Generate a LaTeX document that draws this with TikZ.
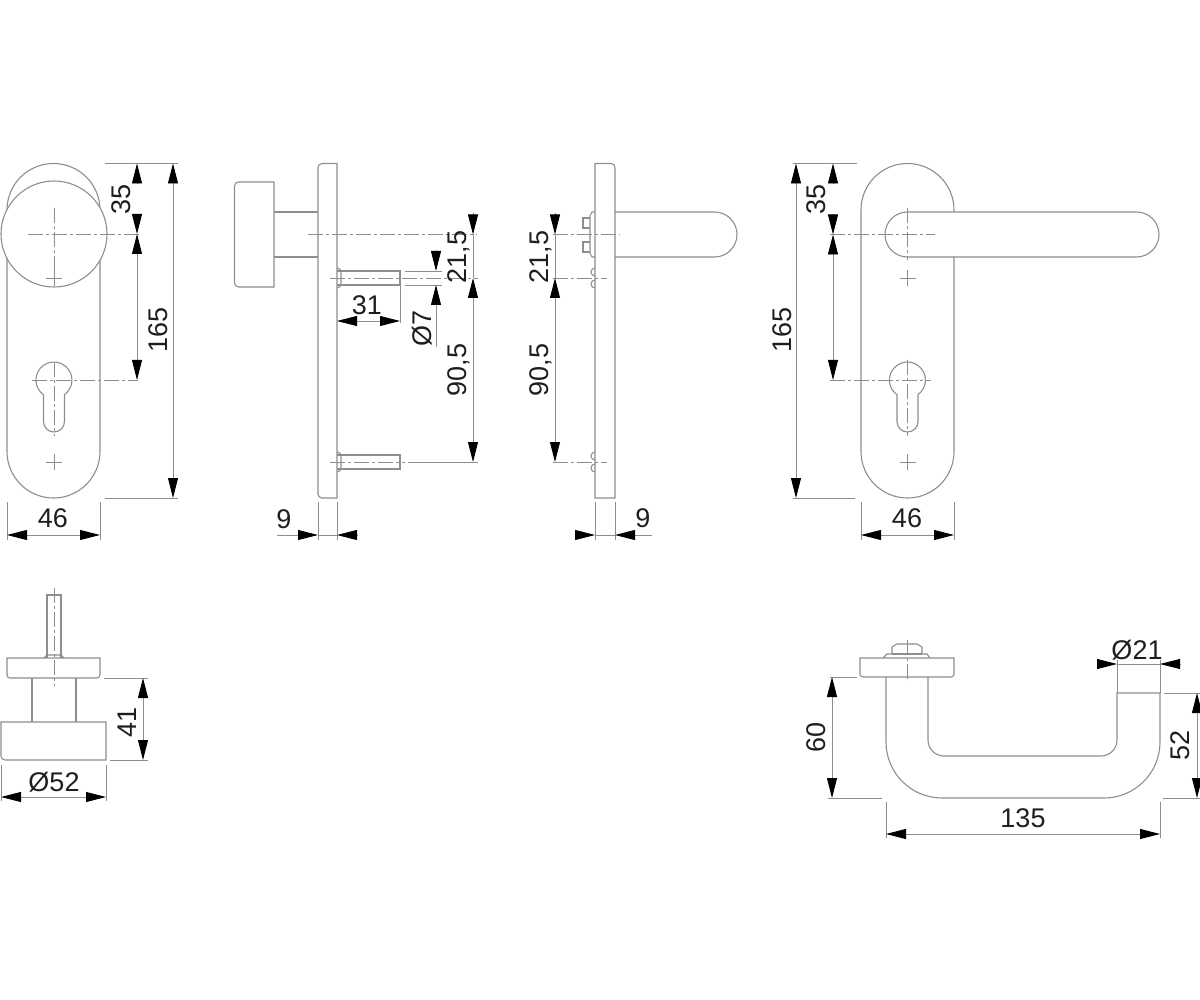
\documentclass[tikz,border=0pt]{standalone}
\usepackage{fontspec}
\setmainfont{Liberation Sans}
\usetikzlibrary{arrows.meta}
\definecolor{lin}{HTML}{8E8E8E}
\definecolor{txt}{HTML}{1E1E1E}
\tikzset{
  part/.style={draw=lin,line width=1.1pt},
  thin part/.style={draw=lin,line width=0.9pt},
  axis/.style={draw=lin,line width=0.9pt,dash pattern=on 15pt off 3pt on 3pt off 3pt},
  ext/.style={draw=lin,line width=0.9pt},
  tip/.style={draw=lin,line width=0.9pt,-{Triangle[length=20pt,width=10pt,fill=black,color=black]}},
  lab/.style={text=txt,font=\fontsize{27}{27}\selectfont,inner sep=0pt},
  rlab/.style={lab,rotate=90}
}
\newcommand{\plusmark}[2]{\draw[thin part] (#1-8,#2)--(#1+8,#2) (#1,#2-8)--(#1,#2+8);}
\newcommand{\cylinder}[2]{\draw[part] (#1-10.5,#2+14.6) -- (#1-10.5,#2+41.5) arc[start angle=180,end angle=0,radius=10.5] -- (#1+10.5,#2+14.6) arc[start angle=54,end angle=-234,radius=18] -- cycle;}
\newcommand{\bumpR}[2]{\draw[part] (#1,#2-10) .. controls (#1+3,#2-10) and (#1+4,#2-8) .. (#1+4,#2-5) -- (#1+4,#2+5) .. controls (#1+4,#2+8) and (#1+3,#2+10) .. (#1,#2+10);}
\newcommand{\bumpL}[2]{\draw[part] (#1,#2-10) arc[start angle=270,end angle=90,radius=4] (#1,#2+2) arc[start angle=270,end angle=90,radius=4];}
\begin{document}
\begin{tikzpicture}[x=1pt,y=-1pt]
\useasboundingbox (0,0) rectangle (1200,1000);
% ---------- front view, knob
\draw[part] (7,210) arc[start angle=180,end angle=360,radius=46.5] -- (100,451.5) arc[start angle=0,end angle=180,radius=46.5] -- cycle;
\draw[part,fill=white] (54,234) circle[radius=53];
\draw[axis] (28,234)--(140,234);
\draw[axis] (54,208)--(54,272);
\plusmark{54}{278}
\cylinder{54}{380}
\draw[axis] (32,380)--(138,380);
\draw[axis] (54,362)--(54,436);
\plusmark{54}{462}
\draw[ext] (105,163.5)--(178,163.5) (105,498)--(178,498);
\draw[ext] (7,502)--(7,540) (100,502)--(100,540);
\draw[tip] (137,184)--(137,163.5);
\draw[tip] (137,214)--(137,234);
\draw[tip] (137,255)--(137,234);
\draw[tip] (137,359)--(137,380);
\draw[ext] (137,255)--(137,359);
\draw[tip] (173,330)--(173,163.5);
\draw[tip] (173,330)--(173,498);
\draw[tip] (53.5,535)--(7,535);
\draw[tip] (53.5,535)--(100,535);
\node[rlab] (a35) at (121,199) {35};
\node[rlab] (a165) at (158,330) {165};
\node[lab] (a46) at (53,518) {46};
% ---------- side view, knob
\draw[part] (322,163.5)--(337,163.5)--(337,498)--(322,498) arc[start angle=90,end angle=180,radius=4] -- (318,167.5) arc[start angle=180,end angle=270,radius=4] -- cycle;
\draw[part] (238.5,182)--(274,182)--(274,287)--(238.5,287) arc[start angle=90,end angle=180,radius=4] -- (234.5,186) arc[start angle=180,end angle=270,radius=4] -- cycle;
\draw[part] (274,212)--(318,212) (274,257)--(318,257);
\draw[axis] (308,234.5)--(477,234.5);
\draw[part] (337,271)--(400,271)--(400,285)--(337,285);
\draw[part] (337,455)--(400,455)--(400,469)--(337,469);
\bumpR{337}{278}
\bumpR{337}{462}
\draw[axis] (330,278)--(478,278);
\draw[axis] (330,462)--(405,462);
\draw[ext] (408,462)--(478,462);
\draw[ext] (405,271)--(442,271) (405,285)--(442,285) (400,285)--(400,323);
\draw[tip] (368,321)--(337,321);
\draw[tip] (368,321)--(400,321);
\draw[tip] (436,250)--(436,271);
\draw[tip] (436,347)--(436,285);
\draw[tip] (473,213)--(473,234.5);
\draw[tip] (473,370)--(473,278);
\draw[tip] (473,370)--(473,462);
\draw[ext] (473,234.5)--(473,278);
\draw[ext] (318,502)--(318,540) (337,502)--(337,540);
\draw[tip] (277,535)--(318,535);
\draw[tip] (357,535)--(337,535);
\draw[ext] (318,535)--(337,535);
\node[lab] (b31) at (367,305) {31};
\node[rlab] (b7) at (422,328) {Ø7};
\node[rlab] (b215) at (459,257) {21,5};
\node[rlab] (b905) at (459,370) {90,5};
\node[lab] (b9) at (284,519) {9};
% ---------- side view, lever
\draw[part] (595,163.5)--(611,163.5) arc[start angle=270,end angle=360,radius=4] -- (615,498)--(595,498)--cycle;
\draw[part] (615,212)--(714.5,212) arc[start angle=-90,end angle=90,radius=22.5] -- (615,257);
\draw[part] (595,212)--(592,212)--(590,216)--(590,253)--(592,257)--(595,257);
\draw[part] (590,218)--(583,218)--(583,228)--(590,228);
\draw[part] (590,242)--(583,242)--(583,252)--(590,252);
\bumpL{595}{278}
\bumpL{595}{462}
\draw[axis] (553,234.5)--(620,234.5);
\draw[axis] (553,278)--(607,278);
\draw[axis] (553,462)--(607,462);
\draw[tip] (555,213)--(555,234.5);
\draw[tip] (555,370)--(555,278);
\draw[tip] (555,370)--(555,462);
\draw[ext] (555,234.5)--(555,278);
\draw[ext] (595,502)--(595,540) (615,502)--(615,540);
\draw[tip] (575,535)--(595,535);
\draw[tip] (652,535)--(615,535);
\draw[ext] (595,535)--(615,535);
\node[rlab] (c215) at (541,257) {21,5};
\node[rlab] (c905) at (541,370) {90,5};
\node[lab] (c9) at (643,518) {9};
% ---------- front view, lever
\draw[part] (954,212)--(954,210) arc[start angle=0,end angle=-180,radius=46.5] -- (861,451.5) arc[start angle=180,end angle=0,radius=46.5] -- (954,257);
\draw[part] (907.5,212)--(1136.5,212) arc[start angle=-90,end angle=90,radius=22.5] -- (907.5,257) arc[start angle=90,end angle=270,radius=22.5];
\draw[axis] (830,234.5)--(935,234.5);
\draw[axis] (907.5,208)--(907.5,260);
\plusmark{907.5}{278}
\cylinder{907.5}{380}
\draw[axis] (830,380)--(931,380);
\draw[axis] (907.5,360)--(907.5,436);
\plusmark{907.5}{462}
\draw[ext] (793,163.5)--(857,163.5) (793,498)--(855,498);
\draw[ext] (861,502)--(861,540) (954,502)--(954,540);
\draw[tip] (833,184)--(833,163.5);
\draw[tip] (833,214)--(833,234.5);
\draw[tip] (833,255)--(833,234.5);
\draw[tip] (833,359)--(833,380);
\draw[ext] (833,255)--(833,359);
\draw[tip] (796,330)--(796,163.5);
\draw[tip] (796,330)--(796,498);
\draw[tip] (907.5,535)--(861,535);
\draw[tip] (907.5,535)--(954,535);
\node[rlab] (d35) at (816,199) {35};
\node[rlab] (d165) at (782,330) {165};
\node[lab] (d46) at (907,518) {46};
% ---------- plan, knob
\draw[part] (47,658)--(47,595)--(61,595)--(61,658);
\draw[part] (44,658)--(47,655)--(61,655)--(64,658);
\draw[part] (7,658)--(100,658)--(100,675) arc[start angle=0,end angle=90,radius=3] -- (10,678) arc[start angle=90,end angle=180,radius=3] -- cycle;
\draw[part] (32,678)--(32,722) (76,678)--(76,722);
\draw[part] (1,722)--(106,722)--(106,760)--(5,760) arc[start angle=90,end angle=180,radius=4] -- cycle;
\draw[axis] (54,588)--(54,686);
\draw[ext] (104,678)--(148,678) (110,760)--(148,760);
\draw[tip] (143,698)--(143,678);
\draw[tip] (143,719)--(143,760);
\draw[ext] (143,698)--(143,719);
\draw[ext] (1,765)--(1,801) (106,765)--(106,801);
\draw[tip] (54,797)--(1,797);
\draw[tip] (54,797)--(106,797);
\node[rlab] (e41) at (127,722) {41};
\node[lab] (e52) at (54,782) {Ø52};
% ---------- plan, lever
\draw[part] (860,658)--(954,658)--(954,674) arc[start angle=0,end angle=90,radius=3] -- (863,677) arc[start angle=90,end angle=180,radius=3] -- cycle;
\draw[part] (883,658)--(887,654)--(892,654)--(892,647)--(897,644)--(917,644)--(922,647)--(922,654)--(927,654)--(930,658);
\draw[part] (892,654)--(922,654);
\draw[axis] (907,640)--(907,682);
\draw[part] (886,677)--(886,742) arc[start angle=180,end angle=90,radius=56] -- (1104,798) arc[start angle=90,end angle=0,radius=56] -- (1160,693) -- (1117,693) -- (1117,740) arc[start angle=0,end angle=90,radius=16] -- (944,756) arc[start angle=90,end angle=180,radius=16] -- (928,677);
\draw[ext] (1117,693)--(1117,660) (1160,693)--(1160,660);
\draw[ext] (1164,693)--(1200,693) (1163,798)--(1200,798);
\draw[ext] (830,677)--(857,677) (828,798)--(882,798);
\draw[ext] (886,802)--(886,838) (1160,802)--(1160,838);
\draw[tip] (1097,664)--(1117,664);
\draw[tip] (1180,664)--(1160,664);
\draw[ext] (1117,664)--(1160,664);
\draw[tip] (832,737)--(832,677);
\draw[tip] (832,737)--(832,798);
\draw[tip] (1197,745)--(1197,693);
\draw[tip] (1197,745)--(1197,798);
\draw[tip] (1023,834)--(886,834);
\draw[tip] (1023,834)--(1160,834);
\node[lab] (f21) at (1137,650) {Ø21};
\node[rlab] (f60) at (816,737) {60};
\node[rlab] (f52) at (1180,745) {52};
\node[lab] (f135) at (1023,818) {135};
\end{tikzpicture}
\end{document}
